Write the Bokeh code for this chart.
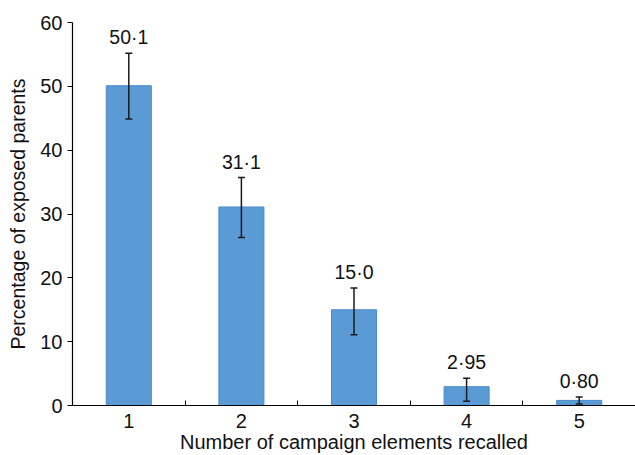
from bokeh.plotting import figure
from bokeh.models import ColumnDataSource, FixedTicker, Whisker, TeeHead, Range1d
from bokeh.core.properties import value
from bokeh.embed import file_html
from bokeh.resources import INLINE

categories = [1, 2, 3, 4, 5]
percentages = [50.1, 31.1, 15.0, 2.95, 0.80]
ci_lower = [44.9, 26.3, 11.1, 0.65, 0.25]
ci_upper = [55.2, 35.7, 18.4, 4.25, 1.35]
value_labels = ["50·1", "31·1", "15·0", "2·95", "0·80"]
y_ticks = [0, 10, 20, 30, 40, 50, 60]
x_title = "Number of campaign elements recalled"
y_title = "Percentage of exposed parents"

FONT = "Liberation Sans"

src = ColumnDataSource(dict(x=categories, top=percentages, lower=ci_lower,
                            upper=ci_upper, lab=value_labels))

p = figure(width=635, height=455, output_backend="svg", toolbar_location=None,
           x_range=Range1d(0.5, 5.5), y_range=Range1d(0, 60),
           min_border_left=72, min_border_right=0, min_border_top=22,
           min_border_bottom=50)
p.outline_line_color = None
p.grid.grid_line_color = None
p.background_fill_color = "white"
p.border_fill_color = "white"

p.vbar(x="x", top="top", width=0.4, bottom=0, source=src,
       fill_color="#5B9BD5", line_color="#4A8BCB", line_width=1)

w = Whisker(base="x", upper="upper", lower="lower", source=src, level="overlay",
            line_color="#1a1a1a", line_width=1.5,
            upper_head=TeeHead(size=7, line_color="#1a1a1a", line_width=1.5),
            lower_head=TeeHead(size=7, line_color="#1a1a1a", line_width=1.5))
p.add_layout(w)

p.text(x="x", y="upper", text="lab", source=src, text_align="center",
       text_baseline="bottom", y_offset=-5, text_color="#111111",
       text_font=value(FONT), text_font_size="19.5px")

# x axis
p.xaxis.ticker = FixedTicker(ticks=categories,
                             minor_ticks=[0.5, 1.5, 2.5, 3.5, 4.5, 5.5])
p.xaxis.major_tick_line_color = None
p.xaxis.major_tick_in = 0
p.xaxis.major_tick_out = 0
p.xaxis.minor_tick_in = 5
p.xaxis.minor_tick_out = 0
p.xaxis.minor_tick_line_color = "black"
p.xaxis.axis_line_color = "black"
p.xaxis.axis_line_width = 1.2
p.xaxis.major_label_text_font = FONT
p.xaxis.major_label_text_font_size = "20px"
p.xaxis.major_label_text_color = "#111111"
p.xaxis.major_label_standoff = 8
p.xaxis.axis_label = x_title
p.xaxis.axis_label_text_font = FONT
p.xaxis.axis_label_text_font_size = "20px"
p.xaxis.axis_label_text_font_style = "normal"
p.xaxis.axis_label_text_color = "#111111"
p.xaxis.axis_label_standoff = 0

# y axis
p.yaxis.ticker = FixedTicker(ticks=y_ticks)
p.yaxis.minor_tick_line_color = None
p.yaxis.major_tick_in = 0
p.yaxis.major_tick_out = 5
p.yaxis.major_tick_line_color = "black"
p.yaxis.axis_line_color = "black"
p.yaxis.axis_line_width = 1.2
p.yaxis.major_label_text_font = FONT
p.yaxis.major_label_text_font_size = "20px"
p.yaxis.major_label_text_color = "#111111"
p.yaxis.major_label_standoff = 5
p.yaxis.axis_label = y_title
p.yaxis.axis_label_text_font = FONT
p.yaxis.axis_label_text_font_size = "19.5px"
p.yaxis.axis_label_text_font_style = "normal"
p.yaxis.axis_label_text_color = "#111111"
p.yaxis.axis_label_standoff = 8

open("out.html", "w").write(file_html(p, INLINE))
